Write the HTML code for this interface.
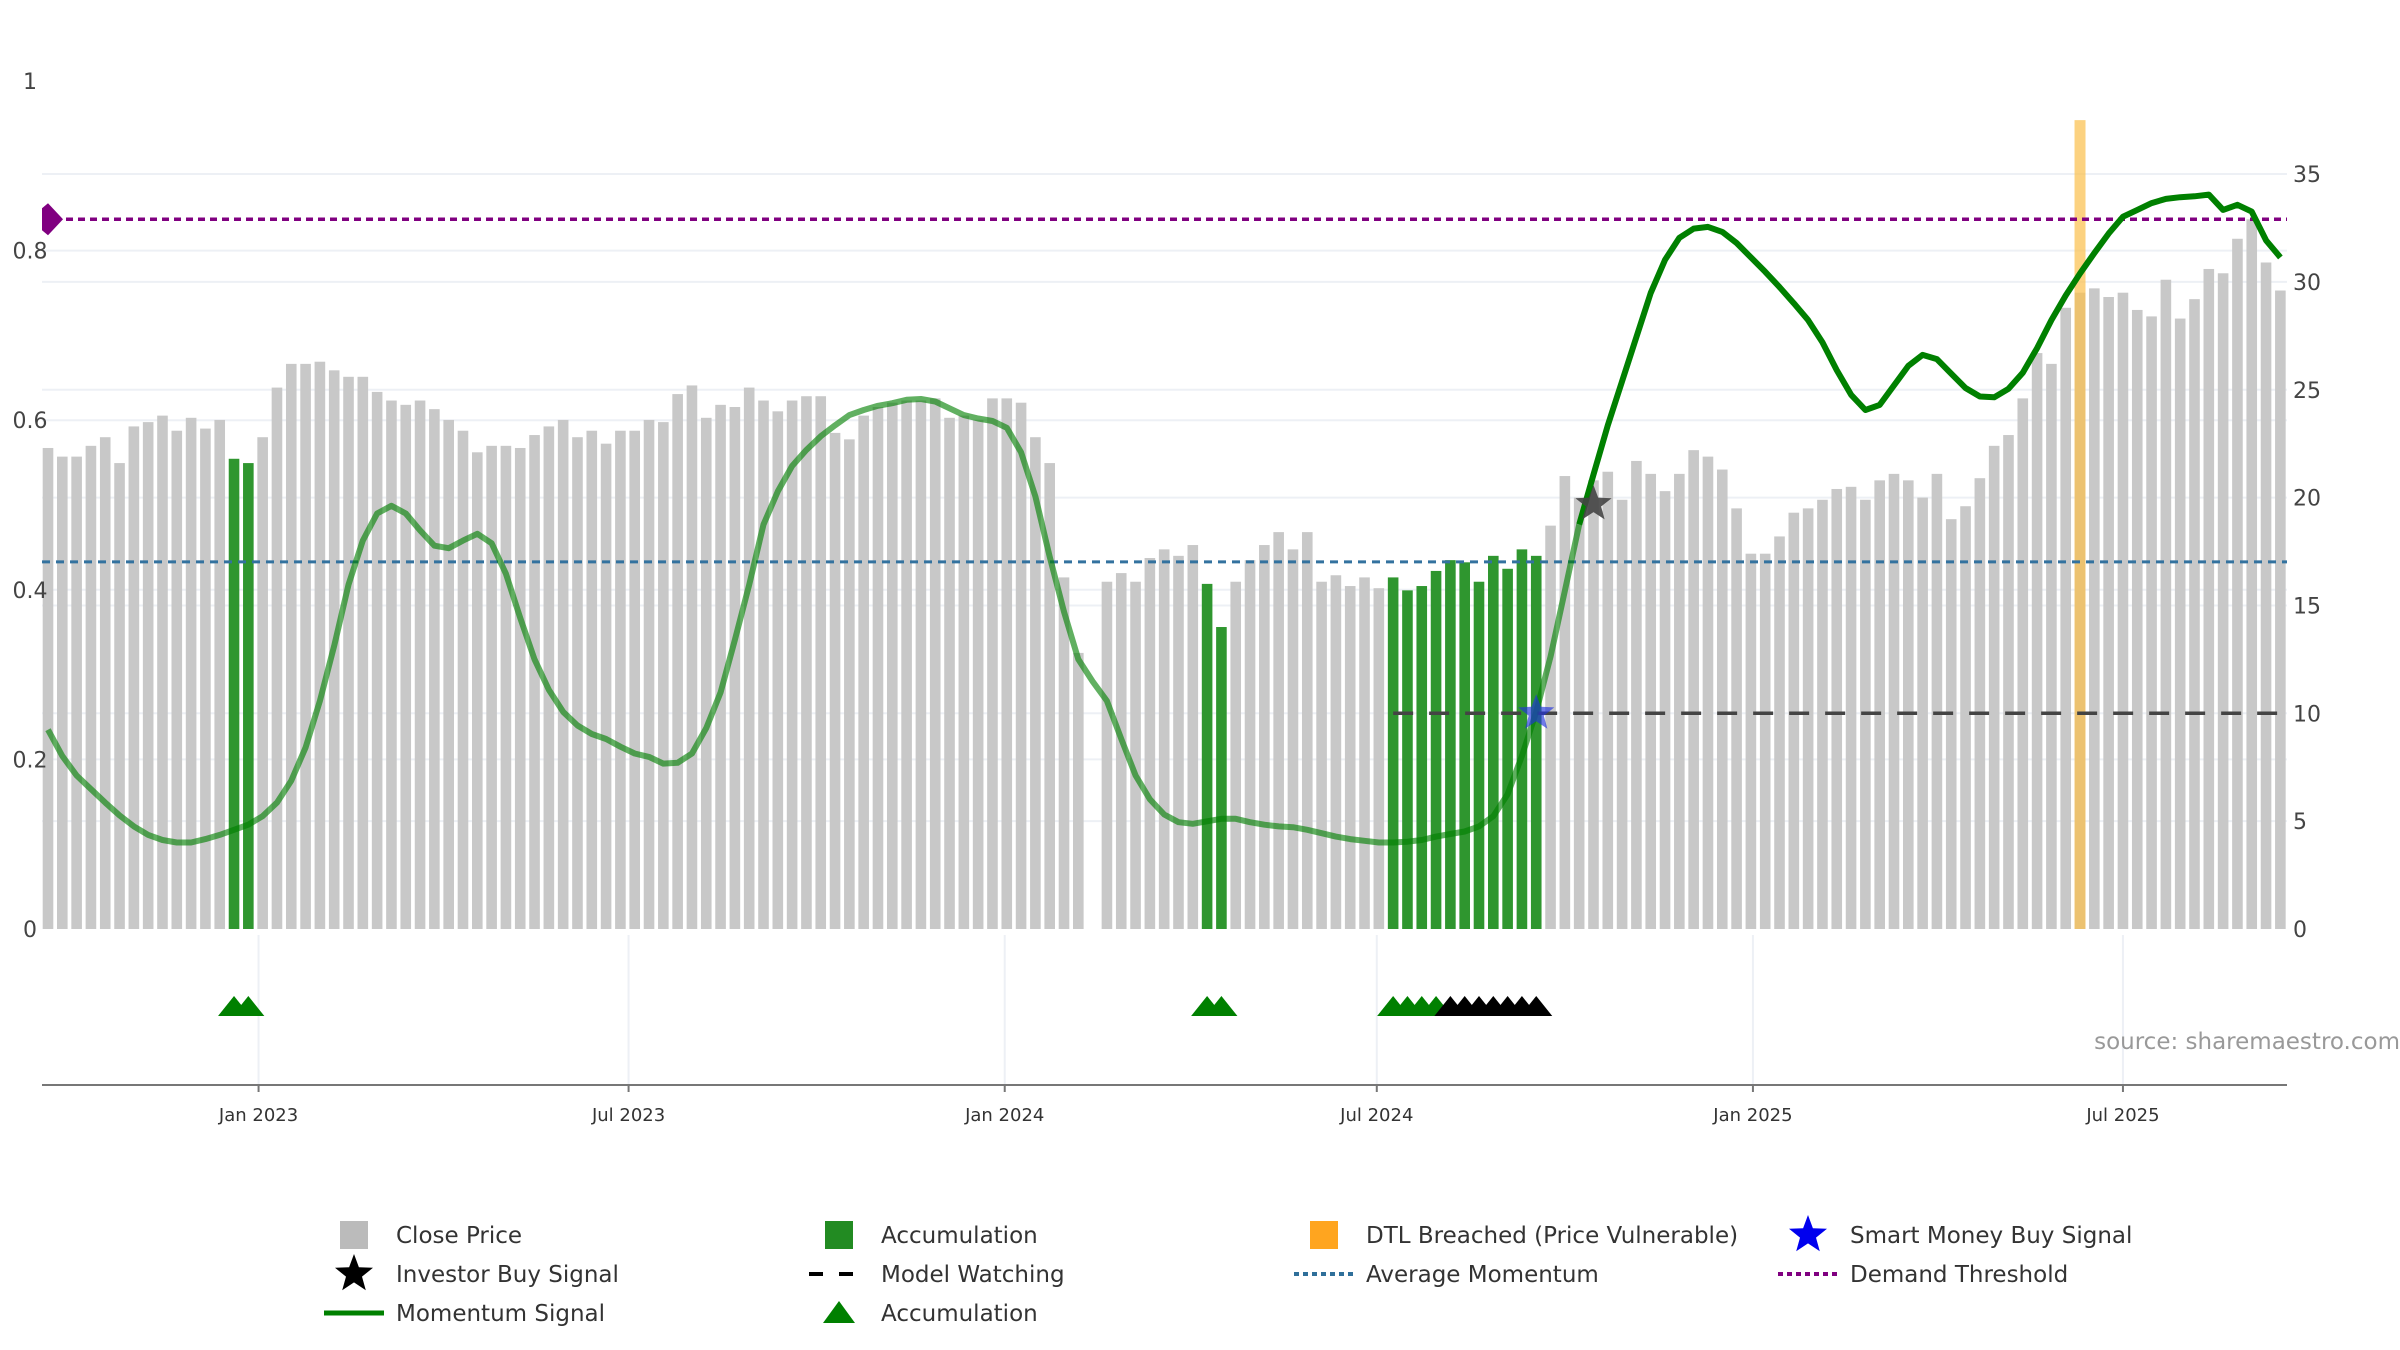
<!DOCTYPE html>
<html><head><meta charset="utf-8"><title>Momentum chart</title>
<style>
html,body{margin:0;padding:0;background:#fff;}
svg{display:block;font-family:"DejaVu Sans","Liberation Sans",sans-serif;}
</style></head>
<body>
<svg id="chart" width="2400" height="1350" viewBox="0 0 2400 1350" xmlns="http://www.w3.org/2000/svg">
  <g id="grid"></g>
  <g id="bars"></g>
  <g id="lines"></g>
  <g id="markers"></g>
  <g id="axes"></g>
  <text x="2400" y="1049" text-anchor="end" font-size="23" fill="#999">source: sharemaestro.com</text>
  <g id="legend"></g>
</svg>
<script>
const startDate = "2022-09-20";
const closePrice = [22.3,21.9,21.9,22.4,22.8,21.6,23.3,23.5,23.8,23.1,
23.7,23.2,23.6,21.8,21.6,22.8,25.1,26.2,26.2,26.3,
25.9,25.6,25.6,24.9,24.5,24.3,24.5,24.1,23.6,23.1,
22.1,22.4,22.4,22.3,22.9,23.3,23.6,22.8,23.1,22.5,
23.1,23.1,23.6,23.5,24.8,25.2,23.7,24.3,24.2,25.1,
24.5,24.0,24.5,24.7,24.7,23.0,22.7,23.8,24.2,24.4,
24.5,24.5,24.6,23.7,23.8,23.6,24.6,24.6,24.4,22.8,
21.6,16.3,12.8,null,16.1,16.5,16.1,17.2,17.6,17.3,
17.8,16.0,14.0,16.1,17.1,17.8,18.4,17.6,18.4,16.1,
16.4,15.9,16.3,15.8,16.3,15.7,15.9,16.6,17.1,17.0,
16.1,17.3,16.7,17.6,17.3,18.7,21.0,20.0,20.8,21.2,
19.9,21.7,21.1,20.3,21.1,22.2,21.9,21.3,19.5,17.4,
17.4,18.2,19.3,19.5,19.9,20.4,20.5,19.9,20.8,21.1,
20.8,20.0,21.1,19.0,19.6,20.9,22.4,22.9,24.6,26.7,
26.2,28.8,29.5,29.7,29.3,29.5,28.7,28.4,30.1,28.3,
29.2,30.6,30.4,32.0,32.9,30.9,29.6];
const momentum = [.235,.204,.181,.165,.149,.134,.121,.111,.105,.102,
.102,.106,.111,.117,.123,.133,.149,.175,.214,.269,
.334,.406,.458,.490,.499,.490,.470,.452,.449,.458,
.466,.455,.419,.367,.318,.282,.256,.240,.230,.224,
.215,.207,.203,.195,.196,.207,.237,.279,.341,.406,
.477,.516,.546,.565,.581,.594,.606,.612,.617,.620,
.624,.625,.622,.614,.606,.602,.599,.591,.562,.510,
.439,.374,.318,.292,.269,.224,.181,.153,.135,.126,
.124,.127,.130,.130,.126,.123,.121,.120,.117,.113,
.109,.106,.104,.102,.102,.103,.105,.109,.112,.115,
.121,.133,.159,.204,.256,.321,.399,.477,.536,.594,
.646,.698,.750,.789,.815,.826,.828,.822,.809,.792,
.775,.757,.738,.718,.692,.659,.630,.612,.618,.641,
.664,.677,.672,.655,.638,.628,.627,.637,.656,.685,
.718,.747,.773,.797,.820,.840,.848,.856,.861,.863,
.864,.866,.848,.854,.846,.812,.792];
const accumulationIdx = [13,14,81,82,94,95,96,97,98,99,100,101,102,103,104];
const greenTriangleIdx = [13,14,81,82,94,95,96,97];
const blackTriangleIdx = [98,99,100,101,102,103,104];
const dtlIdx = [142];
const dtlValue = [37.5];
const smartMoneyIdx = [104];
const investorIdx = [108];
const investorValue = [19.7];
const modelWatchStart = [94];
const modelWatchValue = [10];
const avgMomentum = [0.433];
const demandThreshold = [0.837];
const leftTicks = [0,0.2,0.4,0.6,0.8,1];
const leftTickLabels = ["0","0.2","0.4","0.6","0.8","1"];
const rightTicks = [0,5,10,15,20,25,30,35];
const tickDates = ["2023-01-01","2023-07-01","2024-01-01","2024-07-01","2025-01-01","2025-07-01"];
const tickLabels = ["Jan 2023","Jul 2023","Jan 2024","Jul 2024","Jan 2025","Jul 2025"];

const NS = "http://www.w3.org/2000/svg";
const X0 = 48, STEP = 14.31, PL = 42, PR = 2287, Y0 = 929;
const xi = i => X0 + i * STEP;
const yL = v => Y0 - v * 848;
const yR = v => Y0 - v * 21.57;
const xDate = d => X0 + ((new Date(d) - new Date(startDate)) / 86400000 / 7) * STEP;
function mk(tag, attrs, parent) {
  const e = document.createElementNS(NS, tag);
  for (const k in attrs) e.setAttribute(k, attrs[k]);
  parent.appendChild(e);
  return e;
}
function starPts(cx, cy, R) {
  const p = [];
  for (let k = 0; k < 10; k++) {
    const r = k % 2 ? R * 0.42 : R, a = -Math.PI / 2 + k * Math.PI / 5;
    p.push((cx + r * Math.cos(a)).toFixed(1) + "," + (cy + r * Math.sin(a)).toFixed(1));
  }
  return p.join(" ");
}
const grid = document.getElementById("grid");
const bars = document.getElementById("bars");
const lines = document.getElementById("lines");
const markers = document.getElementById("markers");
const axes = document.getElementById("axes");
const legend = document.getElementById("legend");

rightTicks.slice(1).forEach(v => {
  const l = mk("line", {x1: PL, x2: PR, y1: yR(v), y2: yR(v), stroke: "#edf0f5", "stroke-width": 2}, grid);
  
  
});
leftTicks.slice(1, 5).forEach(v => {
  const l = mk("line", {x1: PL, x2: PR, y1: yL(v), y2: yL(v), stroke: "#edf0f5", "stroke-width": 2}, grid);
  
  
});
tickDates.forEach(d => {
  const l = mk("line", {x1: xDate(d), x2: xDate(d), y1: 935, y2: 1085, stroke: "#edf0f5", "stroke-width": 2}, grid);
  
  
});

closePrice.forEach((v, i) => {
  if (v === null) return;
  const acc = accumulationIdx.includes(i);
  const r = mk("rect", {x: xi(i) - 5.3, y: yR(v), width: 10.6, height: Y0 - yR(v), fill: acc ? "#2f962f" : "#c8c8c8"}, bars);
  
  
});
dtlIdx.forEach((i, k) => {
  const r = mk("rect", {x: xi(i) - 5.5, y: yR(dtlValue[k]), width: 11, height: Y0 - yR(dtlValue[k]), fill: "#fbbf4a", opacity: 0.7}, bars);
  
  
});

const dl = mk("line", {x1: PL, x2: PR, y1: yL(demandThreshold[0]), y2: yL(demandThreshold[0]), stroke: "#800080", "stroke-width": 3.5, "stroke-dasharray": "7,5"}, lines);


const dy = yL(demandThreshold[0]);
const dm = mk("polygon", {points: `${PL},${dy-11} ${PL+6},${dy-16} ${PL+21},${dy} ${PL+6},${dy+16} ${PL},${dy+11}`, fill: "#800080"}, lines);


const al = mk("line", {x1: PL, x2: PR, y1: yL(avgMomentum[0]), y2: yL(avgMomentum[0]), stroke: "#33729f", "stroke-width": 3, "stroke-dasharray": "8,6"}, lines);


const mw = mk("line", {x1: xi(modelWatchStart[0]), x2: PR - 5, y1: yR(modelWatchValue[0]), y2: yR(modelWatchValue[0]), stroke: "#444", "stroke-width": 3.5, "stroke-dasharray": "20,16"}, lines);



const split = 107;
const ptsA = momentum.slice(0, split + 1).map((v, i) => xi(i).toFixed(1) + "," + yL(v).toFixed(1)).join(" ");
const ptsB = momentum.slice(split).map((v, i) => xi(i + split).toFixed(1) + "," + yL(v).toFixed(1)).join(" ");
const mA = mk("polyline", {points: ptsA, fill: "none", stroke: "#008000", "stroke-width": 6, opacity: 0.62, "stroke-linejoin": "round"}, lines);


const mB = mk("polyline", {points: ptsB, fill: "none", stroke: "#008000", "stroke-width": 6, "stroke-linejoin": "round"}, lines);



smartMoneyIdx.forEach(i => {
  const s = mk("polygon", {points: starPts(xi(i), yR(modelWatchValue[0]), 19), fill: "#2233dd", opacity: 0.65}, markers);
  
  
});
investorIdx.forEach((i, k) => {
  const s = mk("polygon", {points: starPts(xi(i), yR(investorValue[k]), 19), fill: "#444", opacity: 0.9}, markers);
  
  
});
function tri(i, color, name) {
  const x = xi(i);
  const t = mk("polygon", {points: `${x-16},1016 ${x},996 ${x+16},1016`, fill: color}, markers);
  
  
}
greenTriangleIdx.forEach(i => tri(i, "#008000", "accumulation-triangle"));
blackTriangleIdx.forEach(i => tri(i, "#000", "watch-triangle"));

const ax = mk("line", {x1: PL, x2: PR, y1: 1085, y2: 1085, stroke: "#777", "stroke-width": 2}, axes);


leftTicks.forEach((v, k) => {
  const t = mk("text", {x: 30, y: yL(v) + 8, "text-anchor": "middle", "font-size": 22, fill: "#444"}, axes);
  t.textContent = leftTickLabels[k];
  
  
});
rightTicks.forEach(v => {
  const t = mk("text", {x: 2293, y: yR(v) + 8, "font-size": 22, fill: "#444"}, axes);
  t.textContent = String(v);
  
  
});
tickDates.forEach((d, k) => {
  const tk = mk("line", {x1: xDate(d), x2: xDate(d), y1: 1085, y2: 1092, stroke: "#777", "stroke-width": 2}, axes);
  
  
  const t = mk("text", {x: xDate(d), y: 1121, "text-anchor": "middle", "font-size": 18, fill: "#333"}, axes);
  t.textContent = tickLabels[k];
  
  
});

const legendItems = [
  ["Close Price", "sq", "#bbbbbb", 354, 1235],
  ["Accumulation", "sq", "#228b22", 839, 1235],
  ["DTL Breached (Price Vulnerable)", "sq", "#ffa51f", 1324, 1235],
  ["Smart Money Buy Signal", "star", "#0000ee", 1808, 1235],
  ["Investor Buy Signal", "star", "#000", 354, 1274],
  ["Model Watching", "dash", "#000", 839, 1274],
  ["Average Momentum", "dot", "#2f6f9a", 1324, 1274],
  ["Demand Threshold", "dot", "#800080", 1808, 1274],
  ["Momentum Signal", "line", "#008000", 354, 1313],
  ["Accumulation", "tri", "#008000", 839, 1313]
];
legendItems.forEach(it => {
  const [label, type, color, x, y] = it;
  const g = mk("g", {}, legend);
  
  
  if (type === "sq") mk("rect", {x: x - 14, y: y - 14, width: 28, height: 28, fill: color}, g);
  else if (type === "star") mk("polygon", {points: starPts(x, y, 20), fill: color}, g);
  else if (type === "dash") mk("line", {x1: x - 30, x2: x + 30, y1: y, y2: y, stroke: color, "stroke-width": 4, "stroke-dasharray": "14,16"}, g);
  else if (type === "dot") mk("line", {x1: x - 30, x2: x + 30, y1: y, y2: y, stroke: color, "stroke-width": 4, "stroke-dasharray": "5,4"}, g);
  else if (type === "line") mk("line", {x1: x - 30, x2: x + 30, y1: y, y2: y, stroke: color, "stroke-width": 5}, g);
  else if (type === "tri") mk("polygon", {points: `${x-16},${y+10} ${x},${y-12} ${x+16},${y+10}`, fill: color}, g);
  const t = mk("text", {x: x + 42, y: y + 8, "font-size": 23, fill: "#333"}, g);
  t.textContent = label;
});
</script>
</body></html>
